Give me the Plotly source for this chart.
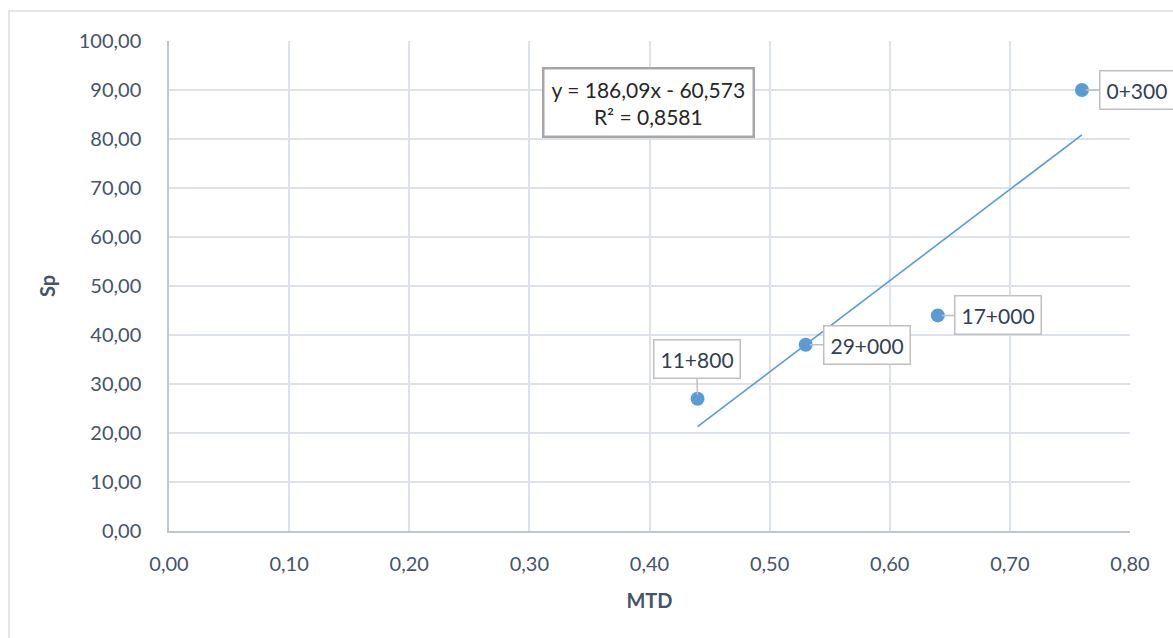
import plotly.graph_objects as go

# Measured sections: mean texture depth (MTD) vs skid resistance (Sp)
sections = ["0+300", "17+000", "29+000", "11+800"]
mtd = [0.76, 0.64, 0.53, 0.44]
sp = [90.0, 44.0, 38.0, 27.0]

# Linear trendline coefficients and fit quality
slope = 186.09
intercept = -60.573
r_squared = 0.8581

x_ticks = [0.0, 0.1, 0.2, 0.3, 0.4, 0.5, 0.6, 0.7, 0.8]
y_ticks = [0, 10, 20, 30, 40, 50, 60, 70, 80, 90, 100]

def fmt(v):
    return f"{v:.2f}".replace(".", ",")

def fmt_eq(v, nd):
    return f"{abs(v):.{nd}f}".replace(".", ",")

FONT = "Lato"
TEXT = "#44546a"
LABEL = "#333f50"
BLUE = "#5b9bd5"
GRID = "#dde2ea"
AXIS = "#bfc6d3"

fig = go.Figure()

trend_x = [min(mtd), max(mtd)]
trend_y = [slope * v + intercept for v in trend_x]
fig.add_trace(go.Scatter(
    x=trend_x, y=trend_y, mode="lines",
    line=dict(color=BLUE, width=1.6), hoverinfo="skip", showlegend=False,
))
fig.add_trace(go.Scatter(
    x=mtd, y=sp, mode="markers", text=sections,
    marker=dict(color=BLUE, size=14, line=dict(width=0)),
    showlegend=False,
))

# Callout labels: (dx, dy) offsets of the box centre from the point, px
offsets = {"0+300": (55, 0), "17+000": (60, 0), "29+000": (61, 0), "11+800": (-1, -40)}
for name, xv, yv in zip(sections, mtd, sp):
    ax, ay = offsets[name]
    fig.add_annotation(
        x=xv, y=yv, xref="x", yref="y", text=name,
        showarrow=True, arrowhead=0, arrowwidth=1.5, arrowcolor="#bfbfbf",
        ax=ax, ay=ay, standoff=4,
        font=dict(family=FONT, size=21, color=LABEL),
        bgcolor="white", bordercolor="#bfbfbf", borderwidth=1.5, borderpad=6,
    )

eq_text = f"y = {fmt_eq(slope, 2)}x - {fmt_eq(intercept, 3)}<br>R² = {fmt_eq(r_squared, 4)}"
fig.add_annotation(
    x=0.399, y=87.5, xref="x", yref="y", text=eq_text, showarrow=False,
    align="center", font=dict(family=FONT, size=21, color="#262626"),
    bgcolor="white", bordercolor="#a6a6a6", borderwidth=2.5, borderpad=7,
)

# Chart frame (top and left edges fall inside the page)
fig.add_shape(
    type="rect", xref="paper", yref="paper",
    x0=-0.1665, x1=1.2, y0=-0.4, y1=1.061,
    line=dict(color="#d9dde3", width=1.5), fillcolor="rgba(0,0,0,0)", layer="below",
)

fig.update_layout(
    width=1173, height=638,
    margin=dict(l=169, r=43, t=41, b=107),
    paper_bgcolor="white", plot_bgcolor="white",
    font=dict(family=FONT, color=TEXT),
    xaxis=dict(
        range=[0, 0.8], tickvals=x_ticks, ticktext=[fmt(v) for v in x_ticks],
        showgrid=True, gridcolor=GRID, gridwidth=1.5,
        showline=True, linecolor=AXIS, linewidth=1.5, zeroline=False,
        ticks="", ticklabelstandoff=14,
        tickfont=dict(family=FONT, size=20, color=TEXT),
        title=dict(text="<b>MTD</b>", font=dict(family=FONT, size=20, color=TEXT), standoff=20),
    ),
    yaxis=dict(
        range=[0, 100], tickvals=y_ticks, ticktext=[fmt(v) for v in y_ticks],
        showgrid=True, gridcolor=GRID, gridwidth=1.5,
        showline=True, linecolor=AXIS, linewidth=1.5, zeroline=False,
        ticks="", ticklabelstandoff=22,
        tickfont=dict(family=FONT, size=20, color=TEXT),
        title=dict(text="<b>Sp</b>", font=dict(family=FONT, size=20, color=TEXT), standoff=18),
    ),
)

fig.write_html("out.html")
